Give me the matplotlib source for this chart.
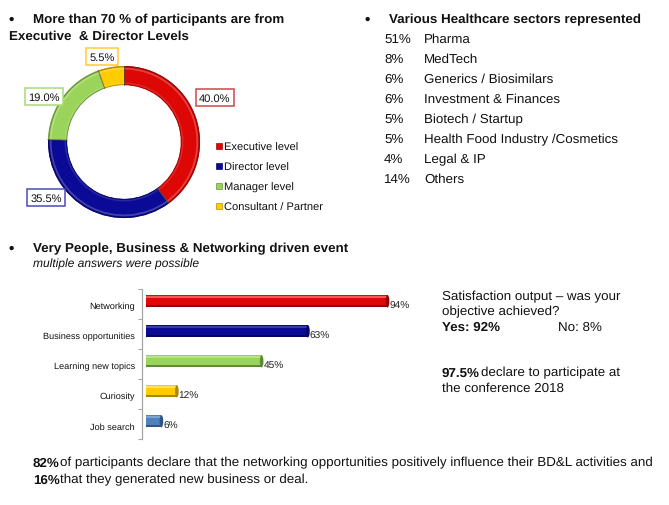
import math
import matplotlib
matplotlib.use("Agg")
import matplotlib.pyplot as plt
from matplotlib.patches import Ellipse, Rectangle
from matplotlib.transforms import ScaledTranslation

plt.rcParams['font.family'] = ['Liberation Sans', 'DejaVu Sans']
plt.rcParams['text.hinting'] = 'no_hinting'
plt.rcParams['text.hinting_factor'] = 8

W, H = 669, 506

level_names = ['Executive level', 'Director level', 'Manager level', 'Consultant / Partner']
level_values = [40.0, 35.5, 19.0, 5.5]
level_labels = ['40.0%', '35.5%', '19.0%', '5.5%']
level_colors = ['#DD0806', '#0A0A96', '#9BD45A', '#FFCC00']
level_edges = ['#D0454A', '#4A4AB8', '#A8D878', '#FFCC33']

sectors_pct = ['51%', '8%', '6%', '6%', '5%', '5%', '4%', '14%']
sectors = ['Pharma', 'MedTech', 'Generics / Biosimilars', 'Investment & Finances',
           'Biotech / Startup', 'Health Food Industry /Cosmetics', 'Legal & IP', 'Others']

drivers = ['Networking', 'Business opportunities', 'Learning new topics', 'Curiosity', 'Job search']
driver_values = [94, 63, 45, 12, 6]
driver_colors = ['#E30606', '#0A0A96', '#9BD45A', '#FFCC00', '#4F81BD']
driver_dark = ['#8E0404', '#05055E', '#5F8A35', '#A88600', '#2F5680']
driver_light = ['#F25A5A', '#3A3AB0', '#B8E488', '#FFE060', '#7FA4D2']


def px(x, y):
    return x / W, 1 - y / H


def txt(x, y, s, size=9.6, **kw):
    kw.setdefault('va', 'center')
    kw.setdefault('color', '#111111')
    return fig.text(*px(x, y + 2.7), s, fontsize=size, **kw)


def ax_px(l, t, w, h):
    return fig.add_axes([l / W, 1 - (t + h) / H, w / W, h / H])


def shade(c, f):
    r, g, b = matplotlib.colors.to_rgb(c)
    if f < 1:
        return (r * f, g * f, b * f)
    return (r + (1 - r) * (f - 1), g + (1 - g) * (f - 1), b + (1 - b) * (f - 1))


fig = plt.figure(figsize=(W / 100, H / 100), dpi=100, facecolor='white')

# ---------- donut ----------
R = 76
ax = ax_px(124 - R - 2, 143 - R - 2, 2 * R + 4, 2 * R + 4)
ax.set_aspect('equal')
ax.axis('off')

rings = [(1.0, 0.25, 1.0), (1.0, 0.022, 0.72), (0.978, 0.025, 1.22),
         (0.782, 0.022, 1.12), (0.76, 0.012, 0.7)]
wedges = None
for radius, width, f in rings:
    out = ax.pie(level_values, colors=[shade(c, f) for c in level_colors], startangle=90,
                 counterclock=False, radius=radius,
                 wedgeprops=dict(width=width, linewidth=0))
    wedges = wedges or out[0]
for w in wedges:
    a = math.radians(w.theta1)
    ax.plot([0.75 * math.cos(a), math.cos(a)], [0.75 * math.sin(a), math.sin(a)],
            color='#4A4A30', lw=0.7, alpha=0.75, zorder=6)
lim = (R + 2) / R
ax.set_xlim(-lim, lim)
ax.set_ylim(-lim, lim)

for s, (x, y), e in zip(level_labels, [(215, 96), (46, 196), (44, 95), (102, 55)], level_edges):
    txt(x, y, s, 8.0, ha='center', zorder=5,
        bbox=dict(boxstyle='square,pad=0.3', facecolor='white', edgecolor=e, linewidth=1.1))

# legend
leg_y = [147, 167, 187, 207]
for n, c, y in zip(level_names, level_colors, leg_y):
    fig.add_artist(Rectangle((216 / W, 1 - (y + 2.5) / H), 5.5 / W, 5.5 / H,
                             transform=fig.transFigure, facecolor=c,
                             edgecolor=shade(c, 0.7), linewidth=0.5))
    txt(224.5, y - 1.5, n, 8.0)

# ---------- headings ----------
txt(9, 17.5, '•', 11, weight='bold')
txt(33, 17.5, 'More than 70 % of participants are from', weight='bold')
txt(9, 33.5, 'Executive  & Director Levels', weight='bold')

txt(365, 17.5, '•', 11, weight='bold')
txt(389, 17.5, 'Various Healthcare sectors represented', weight='bold')
for i, (p, s) in enumerate(zip(sectors_pct, sectors)):
    y = 37 + i * 20
    txt(384, y, p)
    txt(424, y, s)

txt(9, 246.5, '•', 11, weight='bold')
txt(33, 246.5, 'Very People, Business & Networking driven event', weight='bold')
txt(33, 261.5, 'multiple answers were possible', 8.65, style='italic')

# ---------- bars ----------
bx = ax_px(146, 290, 257, 150)
bx.set_xlim(0, 100)
bx.set_ylim(4.5, -0.5)
bx.patch.set_alpha(0)
for s in ['top', 'right', 'bottom']:
    bx.spines[s].set_visible(False)
bx.spines['left'].set_position(('outward', 3))
bx.spines['left'].set_color('#A6A6A6')
bx.spines['left'].set_linewidth(0.9)
bx.set_xticks([])
bx.set_yticks(range(len(drivers)))
bx.set_yticklabels(drivers, fontsize=6.6, color='#111111')
bx.tick_params(axis='y', length=0, pad=5)
shift = ScaledTranslation(0, -1.2 / 100, fig.dpi_scale_trans)
for lab in bx.get_yticklabels():
    lab.set_transform(lab.get_transform() + shift)
bx.set_yticks([i - 0.5 for i in range(len(drivers) + 1)], minor=True)
bx.tick_params(axis='y', which='minor', length=3, color='#A6A6A6', width=0.8, direction='out')

off = -0.09
h = 0.41
end_w = 1.4
for i, (v, c, d, l) in enumerate(zip(driver_values, driver_colors, driver_dark, driver_light)):
    y = i + off
    bx.barh(y, v, height=h, color=c, linewidth=0, zorder=2)
    bx.barh(y - h * 0.36, v, height=h * 0.2, color=l, linewidth=0, zorder=3)
    bx.barh(y + h * 0.42, v, height=h * 0.16, color=d, linewidth=0, zorder=3)
    bx.add_patch(Ellipse((0, y), end_w, h, facecolor=c, linewidth=0, zorder=1))
    bx.add_patch(Ellipse((v, y), end_w, h, facecolor=d, linewidth=0, zorder=4))
    bx.text(v + 0.7, i + 0.04, f'{v}%', fontsize=7.3, va='center',
            ha='left', color='#222222', zorder=5)

# ---------- right notes ----------
txt(442, 294.5, 'Satisfaction output – was your')
txt(442, 309.5, 'objective achieved?')
txt(442, 324.5, 'Yes: 92%', weight='bold')
txt(558, 324.5, 'No: 8%')
txt(442, 370.5, '97.5%', weight='bold')
txt(481, 370.5, 'declare to participate at')
txt(442, 385.5, 'the conference 2018')

# ---------- footer ----------
txt(33, 460.5, '82%', weight='bold')
txt(60, 460.5, 'of participants declare that the networking opportunities positively influence their BD&L activities and')
txt(33, 477.5, '16%', weight='bold')
txt(60, 477.5, 'that they generated new business or deal.')

fig.savefig('out.png', dpi=100, facecolor='white')
